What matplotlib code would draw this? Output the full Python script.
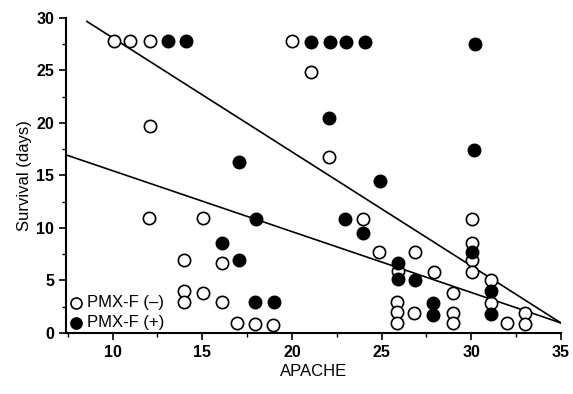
import matplotlib
matplotlib.use('Agg')
import matplotlib.pyplot as plt
from matplotlib.ticker import MultipleLocator

plt.rcParams['font.family'] = ['Liberation Sans', 'DejaVu Sans']

# PMX-F (-) : open circles
apache_neg = [10.1, 11.0, 12.1, 20.0, 21.05, 22.07, 12.1, 12.03, 15.04, 13.96, 16.08,
              13.96, 13.96, 15.04, 16.08, 16.96, 17.92, 18.95, 23.97, 24.86, 26.85,
              30.03, 30.03, 30.03, 30.03, 25.94, 27.9, 28.99, 31.08, 31.08,
              25.87, 25.87, 25.87, 26.8, 28.99, 28.99, 31.97, 33.0, 33.0]
surv_neg = [27.8, 27.8, 27.8, 27.8, 24.8, 16.7, 19.65, 10.9, 10.9, 6.95, 6.7,
            4.03, 2.98, 3.78, 2.98, 0.98, 0.86, 0.76, 10.8, 7.75, 7.75,
            10.8, 8.54, 6.9, 5.84, 5.93, 5.78, 3.84, 5.05, 2.83,
            2.98, 2.03, 0.92, 1.94, 1.87, 0.92, 0.92, 1.94, 0.86]

# PMX-F (+) : filled circles
apache_pos = [13.1, 14.1, 21.05, 22.1, 23.0, 24.1, 30.2, 22.07, 30.15, 24.9, 17.03,
              17.98, 16.08, 17.03, 17.92, 18.98, 22.95, 23.97, 30.03, 25.94, 25.94,
              26.85, 31.08, 31.08, 27.88, 27.88]
surv_pos = [27.8, 27.8, 27.7, 27.7, 27.7, 27.7, 27.5, 20.5, 17.4, 14.5, 16.3,
            10.8, 8.54, 6.9, 2.92, 2.92, 10.8, 9.5, 7.75, 6.7, 5.1,
            5.05, 4.03, 1.81, 2.89, 1.71]

# fitted lines (end points)
line_neg_x = [7.4, 35.0]
line_neg_y = [16.95, 0.95]
line_pos_x = [8.57, 35.0]
line_pos_y = [29.65, 0.95]

fig = plt.figure(figsize=(5.73, 3.94), dpi=100)
ax = fig.add_axes([0.115, 0.155, 0.864, 0.80])

ax.plot(line_pos_x, line_pos_y, color='black', lw=1.2, zorder=1)
ax.plot(line_neg_x, line_neg_y, color='black', lw=1.2, zorder=1)

ax.scatter(apache_neg, surv_neg, s=78, facecolors='white', edgecolors='black',
           linewidths=1.2, zorder=3, label='PMX-F (–)')
ax.scatter(apache_pos, surv_pos, s=78, facecolors='black', edgecolors='black',
           linewidths=1.2, zorder=3, label='PMX-F (+)')

ax.set_xlim(7.4, 35)
ax.set_ylim(0, 30)
ax.spines['top'].set_visible(False)
ax.spines['right'].set_visible(False)
ax.spines['left'].set_linewidth(1.5)
ax.spines['bottom'].set_linewidth(1.5)

ax.xaxis.set_major_locator(MultipleLocator(5))
ax.xaxis.set_minor_locator(MultipleLocator(2.5))
ax.yaxis.set_major_locator(MultipleLocator(5))
ax.yaxis.set_minor_locator(MultipleLocator(2.5))
ax.tick_params(which='major', direction='out', length=5, width=1.2, labelsize=11.5)
ax.tick_params(which='minor', direction='out', length=3, width=1.0)
for lab in ax.get_xticklabels() + ax.get_yticklabels():
    lab.set_fontweight('bold')

ax.set_xlabel('APACHE', fontsize=12, labelpad=3)
ax.set_ylabel('Survival (days)', fontsize=12, labelpad=3)

leg = ax.legend(loc='lower left', bbox_to_anchor=(0.0, 0.0), frameon=False,
                handlelength=0.9, handletextpad=0.2, borderaxespad=0.0,
                labelspacing=0.3, fontsize=12, markerscale=0.9, borderpad=0.15)

fig.savefig('out.png', dpi=100)
